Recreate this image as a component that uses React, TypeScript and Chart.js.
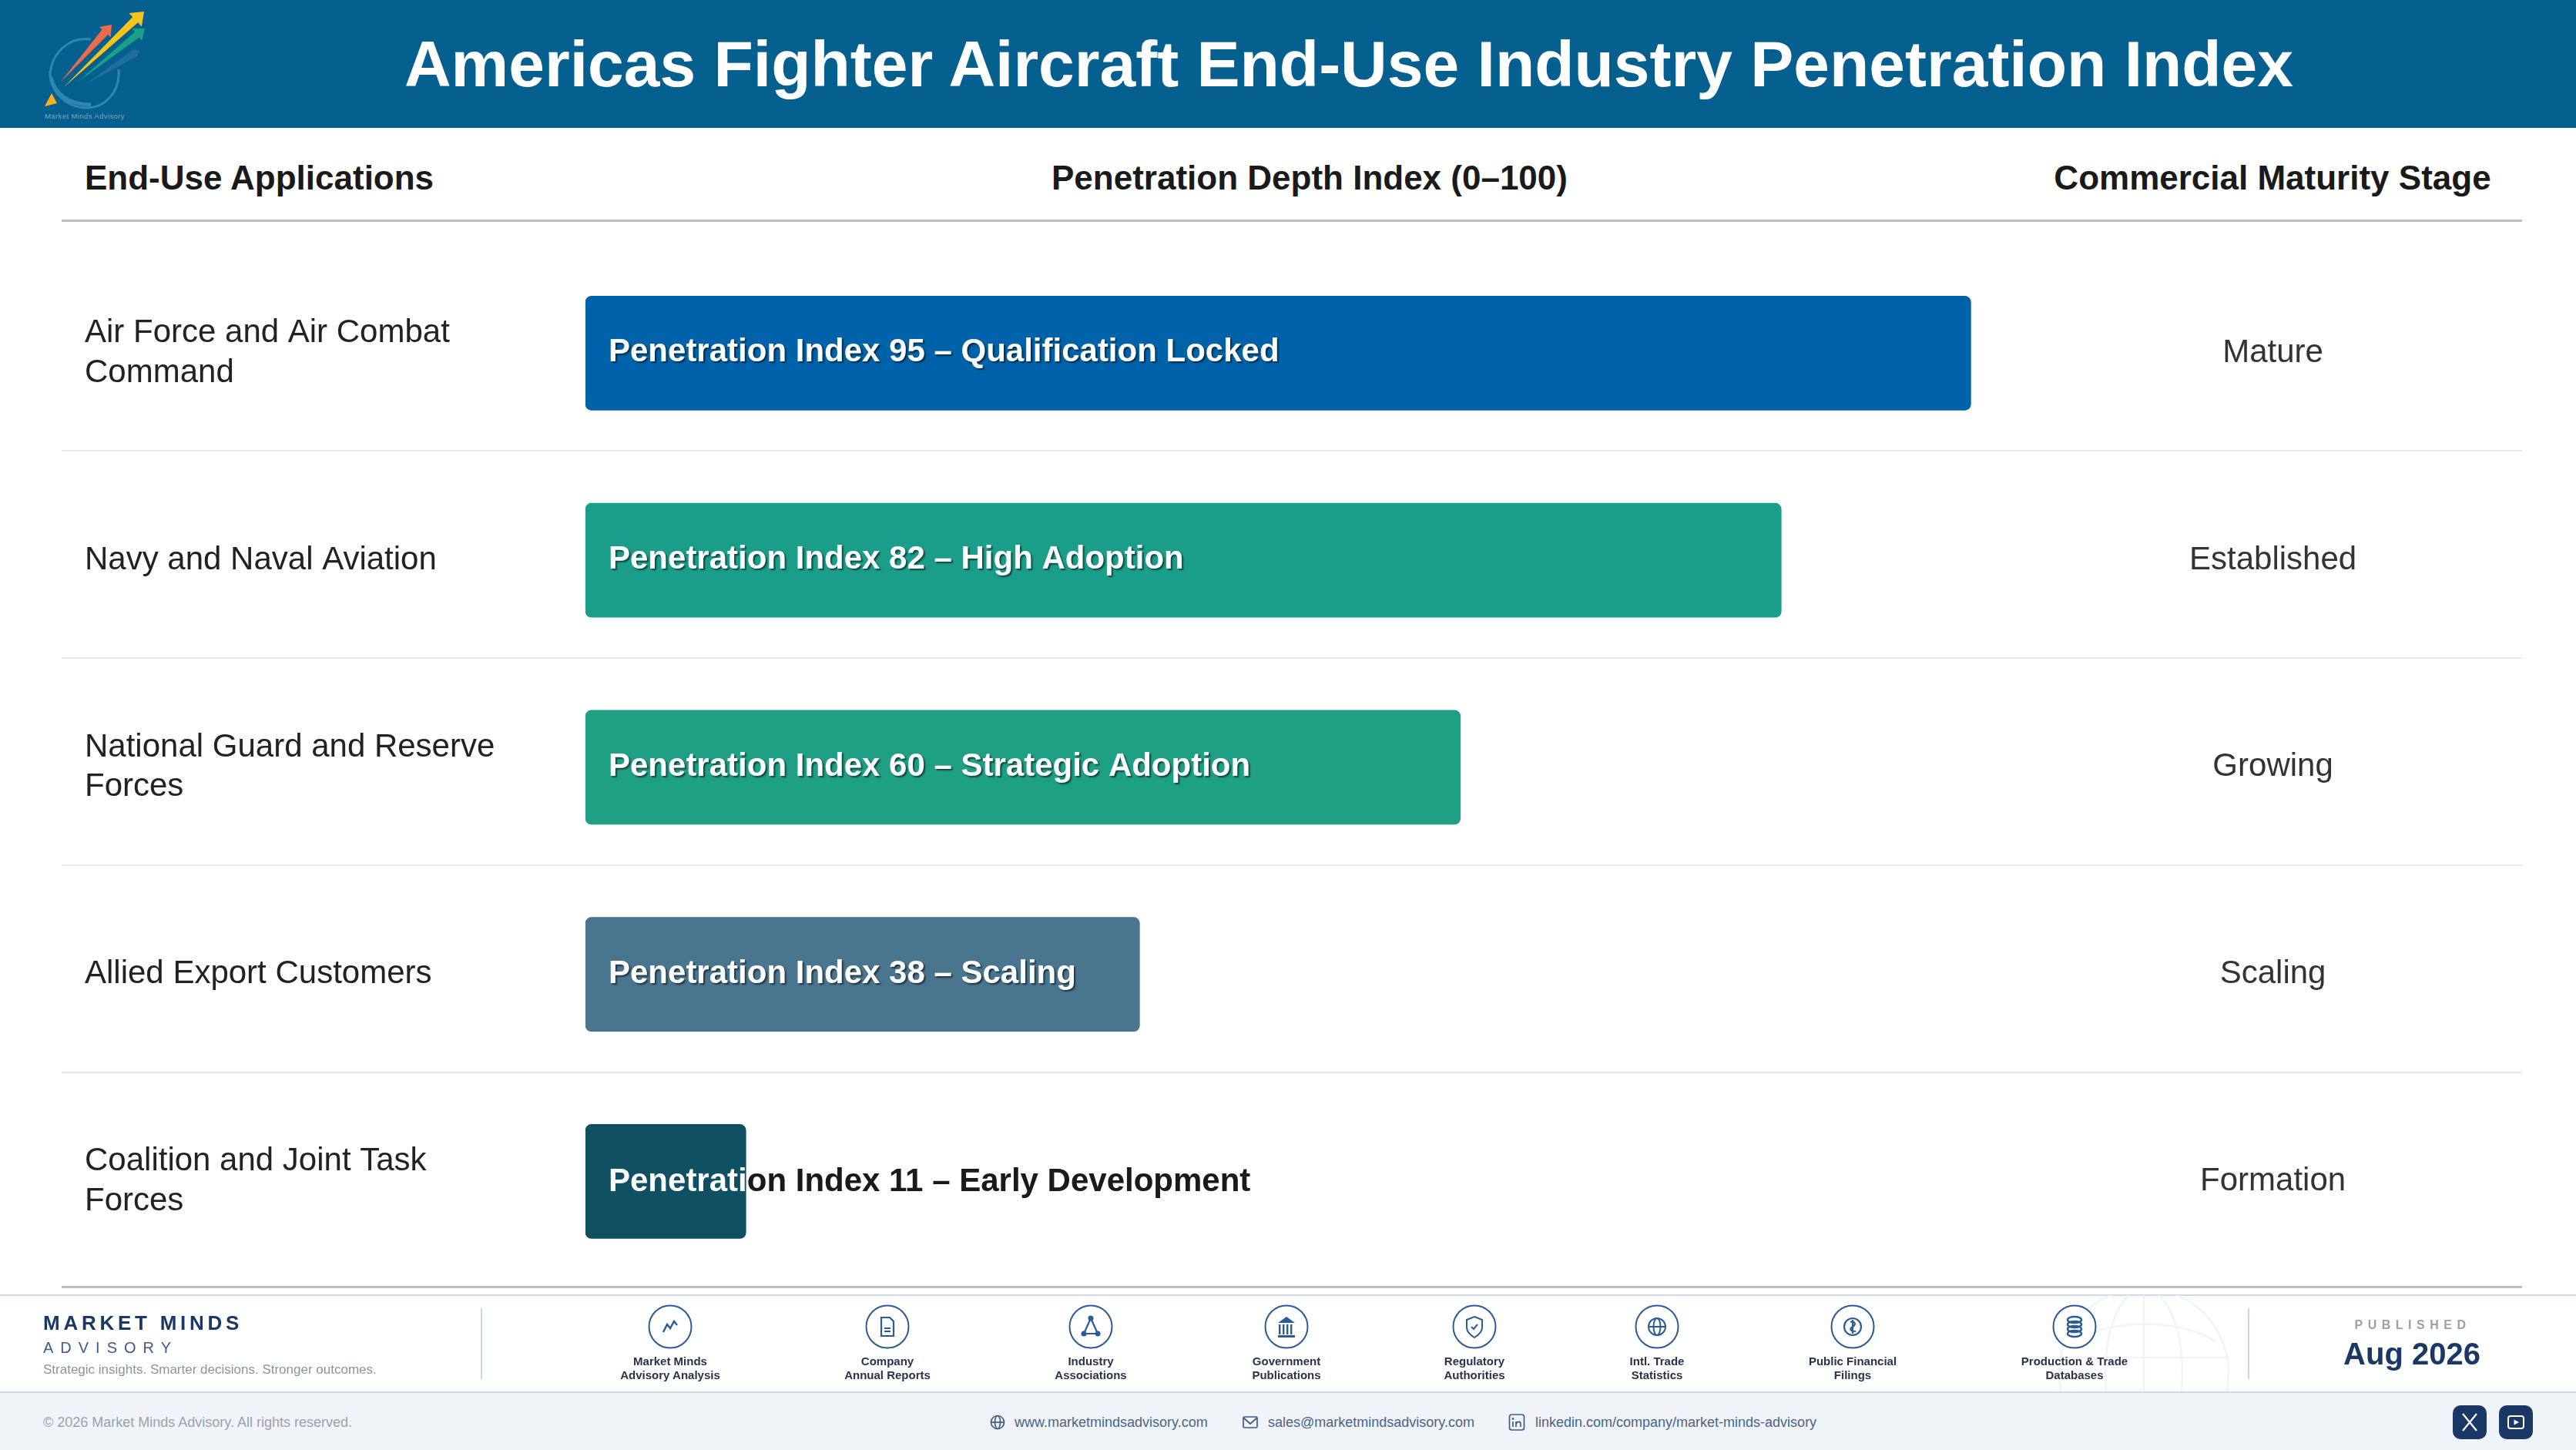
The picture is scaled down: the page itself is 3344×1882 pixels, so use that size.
import React, { useEffect, useRef } from "react";
import { Chart, registerables } from "chart.js";

Chart.register(...registerables);

const title = "Americas Fighter Aircraft End-Use Industry Penetration Index";
const columnHeads = ["End-Use Applications", "Penetration Depth Index (0–100)", "Commercial Maturity Stage"];
const categories = [
  ["Air Force and Air Combat", "Command"],
  ["Navy and Naval Aviation"],
  ["National Guard and Reserve", "Forces"],
  ["Allied Export Customers"],
  ["Coalition and Joint Task", "Forces"],
];
const values = [95, 82, 60, 38, 11];
const statuses = ["Qualification Locked", "High Adoption", "Strategic Adoption", "Scaling", "Early Development"];
const stages = ["Mature", "Established", "Growing", "Scaling", "Formation"];
const barColors = ["#0062A8", "#1A9E8A", "#1F9F84", "#4A758F", "#0F5062"];
const sources = [
  ["Market Minds", "Advisory Analysis"],
  ["Company", "Annual Reports"],
  ["Industry", "Associations"],
  ["Government", "Publications"],
  ["Regulatory", "Authorities"],
  ["Intl. Trade", "Statistics"],
  ["Public Financial", "Filings"],
  ["Production & Trade", "Databases"],
];
const sourceX = [870, 1152, 1416, 1670, 1914, 2151, 2405, 2693];

const FONT = '"Liberation Sans", Arial, sans-serif';

const rowRules = {
  id: "rowRules",
  beforeDatasetsDraw(chart: any) {
    const { ctx, scales } = chart;
    const y = scales.y;
    const step = y.getPixelForValue(1) - y.getPixelForValue(0);
    ctx.save();
    ctx.strokeStyle = "#E8E8EA";
    ctx.lineWidth = 2;
    for (let i = 0; i < values.length - 1; i++) {
      const py = Math.round(y.getPixelForValue(i) + step / 2 - 7.5);
      ctx.beginPath();
      ctx.moveTo(80, py);
      ctx.lineTo(3274, py);
      ctx.stroke();
    }
    ctx.restore();
  },
};

const barLabels = {
  id: "barLabels",
  afterDatasetsDraw(chart: any) {
    const { ctx } = chart;
    const meta = chart.getDatasetMeta(0);
    ctx.save();
    ctx.font = `bold 42px ${FONT}`;
    ctx.textAlign = "left";
    ctx.textBaseline = "alphabetic";
    meta.data.forEach((bar: any, i: number) => {
      const text = `Penetration Index ${values[i]} – ${statuses[i]}`;
      const x = bar.base + 30;
      const w = ctx.measureText(text).width;
      const overflow = x + w > bar.x;
      ctx.save();
      if (overflow) {
        const g = ctx.createLinearGradient(bar.base, 0, x + w, 0);
        const stop = (bar.x - bar.base) / (x + w - bar.base);
        g.addColorStop(0, "#FFFFFF");
        g.addColorStop(stop, "#FFFFFF");
        g.addColorStop(stop, "#1A1A1A");
        g.addColorStop(1, "#1A1A1A");
        ctx.fillStyle = g;
        ctx.fillText(text, x, bar.y + 13);
      } else {
        ctx.shadowColor = "rgba(0,0,0,0.55)";
        ctx.shadowOffsetX = 2;
        ctx.shadowOffsetY = 2;
        ctx.shadowBlur = 2;
        ctx.fillStyle = "#FFFFFF";
        ctx.fillText(text, x, bar.y + 11);
      }
      ctx.restore();
    });
    ctx.restore();
  },
};

const abs = (left: number, top: number, extra: any = {}) => ({ position: "absolute", left, top, ...extra } as any);

function Text({ x, y, size, color, bold, center, spacing, children }: any) {
  return (
    <div
      style={{
        position: "absolute",
        left: center ? x - 1500 : x,
        width: center ? 3000 : undefined,
        top: y - size,
        height: size * 2,
        lineHeight: `${size * 2}px`,
        fontFamily: FONT,
        fontSize: size,
        fontWeight: bold ? 700 : 400,
        color,
        whiteSpace: "nowrap",
        textAlign: center ? "center" : "left",
        letterSpacing: spacing,
      }}
    >
      {children}
    </div>
  );
}

function Arrow({ x1, y1, x2, y2, w, color, head = 9, opacity = 1 }: any) {
  const dx = x2 - x1;
  const dy = y2 - y1;
  const len = Math.hypot(dx, dy);
  const ux = dx / len;
  const uy = dy / len;
  const nx = -uy;
  const ny = ux;
  const bx = x2 - ux * head * 1.3;
  const by = y2 - uy * head * 1.3;
  const pts = [
    [x1, y1],
    [bx + (nx * w) / 2, by + (ny * w) / 2],
    [bx + nx * head, by + ny * head],
    [x2, y2],
    [bx - nx * head, by - ny * head],
    [bx - (nx * w) / 2, by - (ny * w) / 2],
  ];
  return <polygon points={pts.map((p) => p.join(",")).join(" ")} fill={color} opacity={opacity} />;
}

function Logo() {
  return (
    <svg style={abs(0, 0)} width={240} height={166} viewBox="0 0 240 166">
      <g style={{ filter: "blur(0.6px)" }}>
        <path d="M118 51 C90 47 68 68 65 95" fill="none" stroke="#2F86B0" strokeWidth={3} />
        <path d="M65 92 C64 120 88 140 112 140 C136 140 156 120 154 90" fill="none" stroke="#2F86B0" strokeWidth={3} />
        <path d="M66 100 C70 122 90 136 118 136" fill="none" stroke="#2F86B0" strokeWidth={5} />
        <polygon points="67,121 74,134 58,138" fill="#F5B322" />
        <Arrow x1={110} y1={110} x2={181} y2={65} w={10} color="#1F6E9F" head={6} />
        <Arrow x1={100} y1={107} x2={188} y2={37} w={9} color="#19A085" head={10} />
        <Arrow x1={83} y1={113} x2={187} y2={15} w={10} color="#F6C21C" head={12} />
        <Arrow x1={79} y1={106} x2={145} y2={32} w={10} color="#EE6A4D" head={10} />
      </g>
      <text x={110} y={154} textAnchor="middle" fontFamily={FONT} fontSize={9.5} fill="#7FA3BC" letterSpacing={0.4}>
        Market Minds Advisory
      </text>
    </svg>
  );
}

function SourceIcon({ index, cx }: any) {
  const s = "#2B5C94";
  const glyphs: any[] = [
    <polyline key="a" points="-9,7 -4,-3 0,2 5,-7 9,-2" fill="none" stroke={s} strokeWidth={2.4} />,
    <g key="b" fill="none" stroke={s} strokeWidth={2.2}>
      <path d="M-8,-12 H3 L8,-7 V12 H-8 Z" />
      <path d="M-4,2 H4 M-4,6 H4" />
    </g>,
    <g key="c" fill={s} stroke={s} strokeWidth={2.2}>
      <path d="M0,-11 L-9,9 H9 Z" fill="none" />
      <circle cx={0} cy={-11} r={2.5} />
      <circle cx={-9} cy={9} r={2.5} />
      <circle cx={9} cy={9} r={2.5} />
    </g>,
    <g key="d" fill={s}>
      <polygon points="0,-13 -11,-5 11,-5" />
      <rect x={-10} y={-3} width={2.4} height={13} />
      <rect x={-5} y={-3} width={2.4} height={13} />
      <rect x={0} y={-3} width={2.4} height={13} />
      <rect x={5} y={-3} width={2.4} height={13} />
      <rect x={-11} y={11} width={22} height={3} />
    </g>,
    <g key="e" fill="none" stroke={s} strokeWidth={2}>
      <path d="M0,-13 L10,-9 V1 C10,7 5,11 0,14 C-5,11 -10,7 -10,1 V-9 Z" />
      <polyline points="-4,0 -1,3 4,-3" />
    </g>,
    <g key="f" fill="none" stroke={s} strokeWidth={2}>
      <circle r={11} />
      <ellipse rx={4.5} ry={11} />
      <path d="M-11,0 H11" />
    </g>,
    <g key="g" fill="none" stroke={s} strokeWidth={2.2}>
      <circle r={11} />
      <path d="M-3,-6 C3,-8 5,-3 0,0 C-4,3 -4,6 4,6 M0,-9 V9" />
    </g>,
    <g key="h" fill="none" stroke={s} strokeWidth={2.4}>
      <ellipse cy={-9} rx={9} ry={4} />
      <ellipse cy={-3} rx={9} ry={4} />
      <ellipse cy={3} rx={9} ry={4} />
      <ellipse cy={9} rx={9} ry={4} />
    </g>,
  ];
  return (
    <svg style={abs(cx - 30, 1692)} width={60} height={60} viewBox="-30 -30 60 60">
      <circle r={27.5} fill="#fff" stroke={s} strokeWidth={2} />
      {glyphs[index]}
    </svg>
  );
}

function Globe() {
  return (
    <svg style={abs(2660, 1681)} width={250} height={126} viewBox="0 0 250 126">
      <g fill="none" stroke="#F1F3F7" strokeWidth={2.5}>
        <circle cx={123} cy={101} r={110} />
        <ellipse cx={123} cy={101} rx={50} ry={110} />
        <path d="M13,81 H233 M123,-9 V126" />
        <path d="M30,60 C80,30 170,30 216,60" />
      </g>
    </svg>
  );
}

function LinkIcon({ kind, cx }: any) {
  const s = "#3D5C88";
  return (
    <svg style={abs(cx - 12, 1834)} width={24} height={24} viewBox="-12 -12 24 24" fill="none" stroke={s} strokeWidth={1.7}>
      {kind === 0 && (
        <g>
          <circle r={8.5} />
          <ellipse rx={3.5} ry={8.5} />
          <path d="M-8.5,0 H8.5" />
        </g>
      )}
      {kind === 1 && (
        <g>
          <rect x={-9} y={-7} width={18} height={14} rx={1.5} />
          <path d="M-9,-6 L0,2 L9,-6" />
        </g>
      )}
      {kind === 2 && (
        <g>
          <rect x={-9.5} y={-10} width={19} height={20} rx={3} />
          <path d="M-5,-1 V6 M-1,6 V-1 M-1,2 C1,-2 5,-1 5,2 V6" />
          <circle cx={-5} cy={-4.5} r={0.6} />
        </g>
      )}
    </svg>
  );
}

function Social({ x, kind }: any) {
  return (
    <svg style={abs(x, 1824)} width={44} height={44} viewBox="-22 -22 44 44">
      <rect x={-22} y={-22} width={44} height={44} rx={10} fill="#1B3765" />
      {kind === 0 ? (
        <path d="M-9,-11 L9,11 M9,-11 L-9,11" stroke="#fff" strokeWidth={2.2} fill="none" />
      ) : (
        <g>
          <rect x={-10} y={-8} width={20} height={16} rx={3} fill="none" stroke="#fff" strokeWidth={2} />
          <polygon points="-2.5,-3.5 4,0 -2.5,3.5" fill="#fff" />
        </g>
      )}
    </svg>
  );
}

export default function App() {
  const ref = useRef<HTMLCanvasElement | null>(null);
  useEffect(() => {
    document.body.style.margin = "0";
    document.body.style.background = "#fff";
    const chart = new Chart(ref.current as HTMLCanvasElement, {
      type: "bar",
      data: {
        labels: categories as any,
        datasets: [
          {
            data: values,
            backgroundColor: barColors,
            borderRadius: 8,
            borderSkipped: false,
            barThickness: 148,
          },
        ],
      },
      options: {
        indexAxis: "y",
        animation: false,
        responsive: false,
        devicePixelRatio: 1,
        layout: { padding: { left: 110, right: 0, top: 324, bottom: 212.5 } },
        plugins: { legend: { display: false }, tooltip: { enabled: false } },
        scales: {
          x: { type: "linear", min: 0, max: 100, display: false },
          y: {
            type: "category",
            position: "left",
            afterFit(a: any) {
              a.width = 650;
            },
            grid: { display: false },
            border: { display: false },
            ticks: {
              crossAlign: "far",
              autoSkip: false,
              color: "#222222",
              font: { family: FONT, size: 42, lineHeight: 1.22 },
            },
          },
          y1: {
            type: "category",
            position: "right",
            labels: stages,
            afterFit(a: any) {
              a.width = 691;
            },
            grid: { display: false, drawTicks: false },
            border: { display: false },
            ticks: {
              crossAlign: "center",
              autoSkip: false,
              padding: 189,
              color: "#333333",
              font: { family: FONT, size: 42 },
            },
          },
        },
      } as any,
      plugins: [rowRules, barLabels],
    } as any);
    return () => chart.destroy();
  }, []);

  return (
    <div style={{ position: "relative", width: 3344, height: 1882, overflow: "hidden", background: "#fff" }}>
      <div style={abs(0, 0, { width: 3344, height: 166, background: "#05608F" })} />
      <Logo />
      <Text x={1751} y={83} size={84} bold center color="#FFFFFF">
        {title}
      </Text>
      <Text x={110} y={231} size={44} bold color="#1A1A1A">
        {columnHeads[0]}
      </Text>
      <Text x={1700} y={231} size={44} bold center color="#1A1A1A">
        {columnHeads[1]}
      </Text>
      <Text x={2950} y={231} size={44} bold center color="#1A1A1A">
        {columnHeads[2]}
      </Text>
      <div style={abs(80, 285, { width: 3194, height: 3, background: "#BDBDC3" })} />
      <div style={abs(80, 1669, { width: 3194, height: 3, background: "#BDBDC3" })} />
      <canvas ref={ref} width={3344} height={1882} style={abs(0, 0, { width: 3344, height: 1882 })} />

      <div style={abs(0, 1680, { width: 3344, height: 2, background: "#D2D7E4" })} />
      <Globe />
      <div style={abs(0, 1806, { width: 3344, height: 76, background: "#F0F4F9", borderTop: "2px solid #D2D7E4", boxSizing: "border-box" })} />
      <Text x={56} y={1717} size={26} bold color="#1B3765" spacing="4.75px">
        MARKET MINDS
      </Text>
      <Text x={56} y={1749} size={20} color="#3D5C88" spacing="9px">
        ADVISORY
      </Text>
      <Text x={56} y={1778} size={17} color="#8A929E">
        Strategic insights. Smarter decisions. Stronger outcomes.
      </Text>
      <div style={abs(624, 1698, { width: 2, height: 92, background: "#CCD4E0" })} />
      <div style={abs(2918, 1698, { width: 2, height: 92, background: "#CCD4E0" })} />
      {sources.map((lines, i) => (
        <React.Fragment key={i}>
          <SourceIcon index={i} cx={sourceX[i]} />
          <Text x={sourceX[i]} y={1767} size={15} bold center color="#27334A">
            {lines[0]}
          </Text>
          <Text x={sourceX[i]} y={1785} size={15} bold center color="#27334A">
            {lines[1]}
          </Text>
        </React.Fragment>
      ))}
      <Text x={3132} y={1720} size={16} bold center color="#9A9FA8" spacing="6.5px">
        PUBLISHED
      </Text>
      <Text x={3131} y={1757} size={40} bold center color="#1B3765">
        Aug 2026
      </Text>
      <Text x={56} y={1846} size={18} color="#9AA1AD">
        © 2026 Market Minds Advisory. All rights reserved.
      </Text>
      <LinkIcon kind={0} cx={1295} />
      <Text x={1317} y={1846} size={18} color="#4A6488">
        www.marketmindsadvisory.com
      </Text>
      <LinkIcon kind={1} cx={1623} />
      <Text x={1646} y={1846} size={18} color="#4A6488">
        sales@marketmindsadvisory.com
      </Text>
      <LinkIcon kind={2} cx={1969} />
      <Text x={1993} y={1846} size={18} color="#4A6488">
        linkedin.com/company/market-minds-advisory
      </Text>
      <Social x={3184} kind={0} />
      <Social x={3244} kind={1} />
    </div>
  );
}
